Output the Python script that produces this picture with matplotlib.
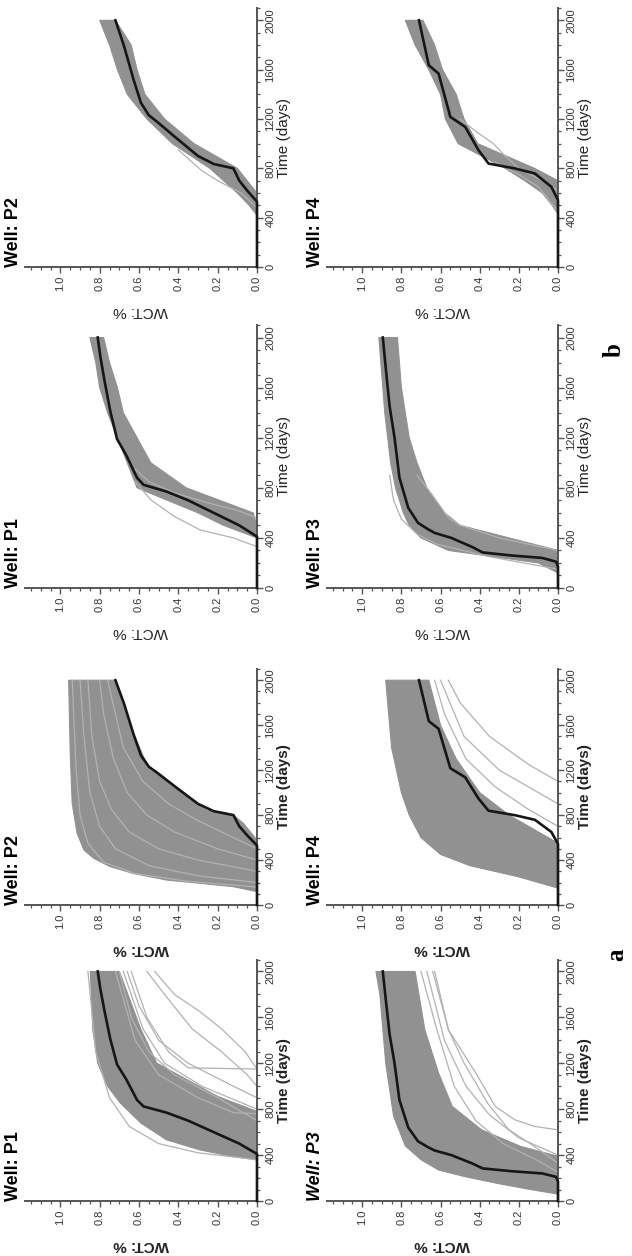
import matplotlib.pyplot as plt

plt.rcParams['font.family'] = ['Liberation Sans', 'DejaVu Sans']

W, H = 632, 1256  # figure size in pixels

# ---- observed water cut (black curves), time in days vs WCT fraction
p1_obs_t = [0, 410, 500, 600, 700, 770, 824, 880, 1060, 1190, 1410, 1650, 1850, 2000]
p1_obs_w = [0, 0, 0.09, 0.22, 0.35, 0.46, 0.577, 0.61, 0.665, 0.712, 0.746, 0.775, 0.797, 0.81]

p2_obs_t = [0, 530, 620, 700, 800, 835, 900, 1045, 1180, 1230, 1330, 1520, 1700, 1800, 2000]
p2_obs_w = [0, 0, 0.05, 0.09, 0.12, 0.22, 0.30, 0.41, 0.51, 0.55, 0.59, 0.628, 0.66, 0.678, 0.72]

p3_obs_t = [0, 170, 210, 240, 260, 284, 325, 400, 440, 470, 520, 640, 880, 1200, 1450, 1680, 2000]
p3_obs_w = [0, 0, 0.01, 0.08, 0.24, 0.385, 0.435, 0.545, 0.63, 0.665, 0.715, 0.765, 0.81, 0.835, 0.86, 0.875, 0.895]

p4_obs_t = [0, 543, 650, 758, 799, 839, 947, 1136, 1217, 1568, 1636, 2000]
p4_obs_w = [0, 0, 0.034, 0.118, 0.22, 0.355, 0.406, 0.474, 0.55, 0.61, 0.66, 0.71]

# ---- (a) prior ensemble: dense envelope (upper / lower WCT edge) + sparse members
a_p1_hi_t = [358, 387, 445, 533, 678, 853, 1000, 1200, 1490, 2000]
a_p1_hi_w = [0, 0.12, 0.29, 0.46, 0.59, 0.695, 0.76, 0.81, 0.835, 0.848]
a_p1_lo_t = [358, 780, 911, 1202, 1493, 2000]
a_p1_lo_w = [0, 0, 0.20, 0.51, 0.59, 0.70]
a_p1_runs = [
    ([1150, 1300, 1500, 1650, 1800, 2000], [0, 0.06, 0.18, 0.29, 0.42, 0.52]),
    ([1150, 1160, 1300, 1600, 2000], [0, 0.35, 0.45, 0.56, 0.64]),
    ([900, 1000, 1200, 1400, 1700, 2000], [0, 0.12, 0.35, 0.50, 0.60, 0.66]),
    ([700, 900, 1100, 1300, 1600, 2000], [0, 0.20, 0.42, 0.55, 0.64, 0.70]),
    ([800, 1000, 1200, 1500, 2000], [0, 0.28, 0.47, 0.58, 0.68]),
    ([760, 770, 900, 1100, 1400, 2000], [0, 0.12, 0.30, 0.50, 0.62, 0.72]),
    ([1000, 1100, 1300, 1500, 1800, 2000], [0, 0.05, 0.18, 0.33, 0.47, 0.56]),
    ([360, 420, 500, 650, 900, 1300, 2000], [0, 0.30, 0.50, 0.65, 0.75, 0.82, 0.86]),
]

a_p2_hi_t = [119, 163, 193, 222, 281, 341, 415, 489, 637, 904, 1348, 2000]
a_p2_hi_w = [0, 0.12, 0.29, 0.46, 0.63, 0.746, 0.83, 0.88, 0.915, 0.94, 0.95, 0.958]
a_p2_lo_t = [119, 578, 726, 800, 815, 844, 919, 1037, 1156, 1200, 1319, 1526, 1763, 2000]
a_p2_lo_w = [0, 0, 0.069, 0.12, 0.154, 0.255, 0.323, 0.408, 0.492, 0.543, 0.577, 0.628, 0.678, 0.72]
a_p2_runs = [
    ([200, 260, 350, 500, 700, 1000, 1500, 2000], [0, 0.30, 0.55, 0.72, 0.80, 0.85, 0.88, 0.90]),
    ([300, 400, 500, 650, 850, 1100, 1500, 2000], [0, 0.30, 0.50, 0.65, 0.74, 0.80, 0.84, 0.86]),
    ([400, 500, 650, 800, 1000, 1300, 1700, 2000], [0, 0.20, 0.42, 0.56, 0.66, 0.73, 0.78, 0.80]),
    ([500, 600, 750, 900, 1100, 1400, 2000], [0, 0.12, 0.30, 0.45, 0.58, 0.68, 0.76]),
    ([160, 210, 280, 380, 550, 800, 1200, 2000], [0, 0.35, 0.62, 0.78, 0.86, 0.90, 0.92, 0.94]),
]

a_p3_hi_t = [60, 100, 150, 210, 270, 360, 480, 740, 1200, 1800, 2000]
a_p3_hi_w = [0, 0.14, 0.30, 0.47, 0.61, 0.70, 0.78, 0.84, 0.88, 0.91, 0.93]
a_p3_lo_t = [200, 390, 475, 620, 824, 1115, 1490, 2000]
a_p3_lo_w = [0, 0, 0.19, 0.39, 0.54, 0.61, 0.68, 0.73]
a_p3_runs = [
    ([620, 650, 707, 824, 1115, 1493, 2000], [0, 0.12, 0.22, 0.32, 0.42, 0.56, 0.64]),
    ([329, 475, 620, 853, 1202, 1493, 2000], [0, 0.12, 0.25, 0.36, 0.48, 0.56, 0.63]),
    ([400, 550, 750, 1000, 1400, 2000], [0, 0.20, 0.35, 0.47, 0.58, 0.67]),
    ([250, 350, 500, 700, 1000, 1500, 2000], [0, 0.10, 0.28, 0.42, 0.53, 0.62, 0.70]),
]

a_p4_hi_t = [150, 250, 350, 450, 600, 800, 1000, 1400, 2000]
a_p4_hi_w = [0, 0.20, 0.45, 0.60, 0.70, 0.76, 0.80, 0.85, 0.88]
a_p4_lo_t = [200, 550, 800, 1000, 1300, 1600, 2000]
a_p4_lo_w = [0, 0, 0.25, 0.40, 0.52, 0.60, 0.66]
a_p4_runs = [
    ([900, 1000, 1200, 1500, 2000], [0, 0.10, 0.30, 0.48, 0.60]),
    ([1100, 1250, 1500, 1800, 2000], [0, 0.15, 0.35, 0.50, 0.56]),
    ([700, 850, 1050, 1300, 1700, 2000], [0, 0.15, 0.32, 0.47, 0.58, 0.63]),
]

# ---- (b) history-matched ensemble
b_p1_t = [400, 500, 600, 800, 1000, 1200, 1400, 1600, 1800, 2000]
b_p1_hi = [0, 0.17, 0.30, 0.61, 0.66, 0.71, 0.76, 0.80, 0.82, 0.85]
b_p1_lo = [0, 0, 0.02, 0.36, 0.54, 0.61, 0.68, 0.71, 0.75, 0.78]
b_p1_runs = [
    ([330, 400, 464, 571, 704, 850], [0, 0.12, 0.29, 0.42, 0.54, 0.62]),
    ([560, 620, 680, 760, 850, 950], [0, 0.10, 0.25, 0.42, 0.55, 0.62]),
]

b_p2_t = [420, 500, 600, 800, 1000, 1200, 1400, 1600, 1800, 2000]
b_p2_hi = [0, 0.04, 0.10, 0.24, 0.43, 0.56, 0.66, 0.71, 0.75, 0.80]
b_p2_lo = [0, 0, 0, 0.10, 0.32, 0.47, 0.57, 0.61, 0.64, 0.72]
b_p2_runs = [
    ([480, 600, 700, 780, 850, 950], [0, 0.08, 0.20, 0.28, 0.33, 0.40]),
]

b_p3_t = [120, 200, 300, 400, 500, 600, 800, 1000, 1200, 1400, 1600, 1800, 2000]
b_p3_hi = [0, 0.10, 0.56, 0.70, 0.76, 0.79, 0.83, 0.855, 0.87, 0.885, 0.895, 0.905, 0.915]
b_p3_lo = [0, 0, 0, 0.25, 0.50, 0.58, 0.67, 0.72, 0.76, 0.78, 0.80, 0.81, 0.82]
b_p3_runs = [
    ([150, 250, 350, 430, 550, 700, 900], [0, 0.35, 0.62, 0.72, 0.80, 0.84, 0.86]),
    ([300, 400, 500, 560, 650, 780, 900], [0, 0.30, 0.50, 0.56, 0.60, 0.66, 0.72]),
]

b_p4_t = [430, 500, 600, 700, 800, 1000, 1200, 1400, 1600, 1800, 2000]
b_p4_hi = [0, 0.03, 0.08, 0.17, 0.27, 0.51, 0.575, 0.60, 0.66, 0.73, 0.78]
b_p4_lo = [0, 0, 0, 0, 0.12, 0.41, 0.48, 0.52, 0.59, 0.63, 0.69]
b_p4_runs = [
    ([620, 700, 800, 900, 1000, 1100, 1200], [0, 0.08, 0.20, 0.27, 0.33, 0.42, 0.50]),
    ([450, 550, 650, 750, 850], [0, 0.05, 0.10, 0.20, 0.32]),
]

wct_ticks = [0.0, 0.2, 0.4, 0.6, 0.8, 1.0]
time_ticks = [0, 400, 800, 1200, 1600, 2000]

BAND = '#919191'
RUN = '#b2b2b2'
AXC = '#555555'

fig = plt.figure(figsize=(W / 100, H / 100), dpi=100)

# panel boxes in pixels: x at WCT max, x at WCT 0, y at t=2100, y at t=0
COLS = [(25, 257), (327, 558)]
ROWS = {'b_top': (8, 267), 'b_bot': (325, 588), 'a_top': (669, 905), 'a_bot': (960, 1201)}


def draw_panel(col, row, title, hi, lo, runs, obs, bold, italic=False):
    x0, x1 = COLS[col]
    yt, yb = ROWS[row]
    ax = fig.add_axes([x0 / W, 1 - yb / H, (x1 - x0) / W, (yb - yt) / H])

    poly_w = list(hi[1]) + list(lo[1])[::-1]
    poly_t = list(hi[0]) + list(lo[0])[::-1]
    ax.fill(poly_w, poly_t, color=BAND, lw=0.8, ec=BAND, zorder=1)
    for rt, rw in runs:
        ax.plot(rw, rt, color=RUN, lw=0.9, zorder=1.5)
    ax.plot(obs[1], obs[0], color='#161616', lw=1.9, zorder=3, clip_on=False)

    ax.set_xlim(1.18, 0)
    ax.set_ylim(0, 2100)
    for s in ['left', 'top']:
        ax.spines[s].set_visible(False)
    for s in ['right', 'bottom']:
        ax.spines[s].set_color(AXC)
        ax.spines[s].set_linewidth(1.4)
    ax.yaxis.tick_right()

    ax.set_xticks(wct_ticks)
    ax.set_xticklabels(['%.1f' % v for v in wct_ticks], rotation=90, ha='center', va='top')
    ax.set_xticks([i * 0.05 for i in range(24)], minor=True)
    ax.set_yticks(time_ticks)
    ax.set_yticklabels([str(v) for v in time_ticks], rotation=90, ha='left', va='center')
    ax.set_yticks(list(range(0, 2101, 100)), minor=True)
    ax.tick_params(which='major', length=4, width=1, color=AXC, labelsize=8,
                   labelcolor='#333333', pad=2)
    ax.tick_params(which='minor', length=2, width=0.9, color=AXC)
    ax.patch.set_alpha(0)

    wt = 'bold' if bold else 'normal'
    fig.text((x0 - 12) / W, 1 - yb / H, title, rotation=90, ha='center', va='bottom',
             fontsize=13, weight='bold', style='italic' if italic else 'normal')
    fig.text((x1 + 27) / W, 1 - (yt + yb) / 2 / H, 'Time (days)', rotation=90,
             ha='center', va='center', fontsize=11, weight=wt, color='#222222')
    fig.text((x0 + x1) / 2 / W, 1 - (yb + 44) / H, 'WCT: %', rotation=180,
             ha='center', va='center', fontsize=11, weight=wt, color='#222222')
    return ax


# group a (prior ensemble)
draw_panel(0, 'a_bot', 'Well: P1', (a_p1_hi_t, a_p1_hi_w), (a_p1_lo_t, a_p1_lo_w),
           a_p1_runs, (p1_obs_t, p1_obs_w), True)
draw_panel(0, 'a_top', 'Well: P2', (a_p2_hi_t, a_p2_hi_w), (a_p2_lo_t, a_p2_lo_w),
           a_p2_runs, (p2_obs_t, p2_obs_w), True)
draw_panel(1, 'a_bot', 'Well: P3', (a_p3_hi_t, a_p3_hi_w), (a_p3_lo_t, a_p3_lo_w),
           a_p3_runs, (p3_obs_t, p3_obs_w), True, italic=True)
draw_panel(1, 'a_top', 'Well: P4', (a_p4_hi_t, a_p4_hi_w), (a_p4_lo_t, a_p4_lo_w),
           a_p4_runs, (p4_obs_t, p4_obs_w), True)

# group b (updated ensemble)
draw_panel(0, 'b_bot', 'Well: P1', (b_p1_t, b_p1_hi), (b_p1_t, b_p1_lo),
           b_p1_runs, (p1_obs_t, p1_obs_w), False)
draw_panel(0, 'b_top', 'Well: P2', (b_p2_t, b_p2_hi), (b_p2_t, b_p2_lo),
           b_p2_runs, (p2_obs_t, p2_obs_w), False)
draw_panel(1, 'b_bot', 'Well: P3', (b_p3_t, b_p3_hi), (b_p3_t, b_p3_lo),
           b_p3_runs, (p3_obs_t, p3_obs_w), False)
draw_panel(1, 'b_top', 'Well: P4', (b_p4_t, b_p4_hi), (b_p4_t, b_p4_lo),
           b_p4_runs, (p4_obs_t, p4_obs_w), False)

fig.text(617 / W, 1 - 955 / H, 'a', rotation=90, ha='center', va='center',
         fontsize=18, weight='bold', family='Liberation Serif')
fig.text(614 / W, 1 - 350 / H, 'b', rotation=90, ha='center', va='center',
         fontsize=18, weight='bold', family='Liberation Serif')

fig.savefig('out.png', dpi=100)
